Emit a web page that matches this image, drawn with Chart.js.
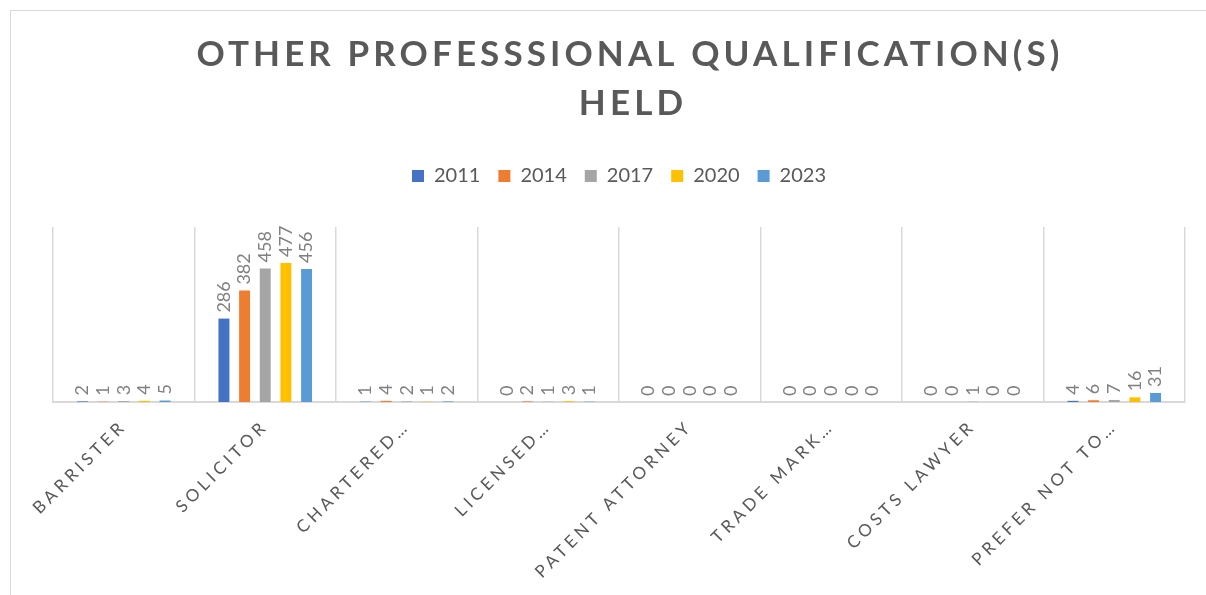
<!DOCTYPE html>
<html>
<head>
<meta charset="utf-8">
<title>Other professional qualification(s) held</title>
<script src="https://cdn.jsdelivr.net/npm/chart.js@4.4.0/dist/chart.umd.min.js"></script>
<style>
    html, body { margin: 0; padding: 0; background: #fff; }
    #wrap { width: 1206px; height: 595px; }
</style>
</head>
<body>
<div id="wrap"><canvas id="qualChart" width="1206" height="595"></canvas></div>
<script>
    // values
    const titleLines = ["OTHER PROFESSSIONAL QUALIFICATION(S)", "HELD"];
    const categories = ["BARRISTER", "SOLICITOR", "CHARTERED…", "LICENSED…", "PATENT ATTORNEY", "TRADE MARK…", "COSTS LAWYER", "PREFER NOT TO…"];
    const years = ["2011", "2014", "2017", "2020", "2023"];
    const values2011 = [2, 286, 1, 0, 0, 0, 0, 4];
    const values2014 = [1, 382, 4, 2, 0, 0, 0, 6];
    const values2017 = [3, 458, 2, 1, 0, 0, 1, 7];
    const values2020 = [4, 477, 1, 3, 0, 0, 0, 16];
    const values2023 = [5, 456, 2, 1, 0, 0, 0, 31];
    const seriesValues = [values2011, values2014, values2017, values2020, values2023];
    const seriesColors = ["#4472C4", "#ED7D31", "#A5A5A5", "#FFC000", "#5B9BD5"];

    const textGrey = "#595959";
    const labelGrey = "#808080";
    Chart.defaults.font.family = "Lato, 'Open Sans', sans-serif";
    Chart.defaults.color = textGrey;

    // frame, spaced title, spaced axis labels and rotated value labels
    const excelLook = {
        id: "excelLook",
        beforeDraw(chart) {
            const ctx = chart.ctx;
            ctx.save();
            ctx.fillStyle = "#fff";
            ctx.fillRect(0, 0, chart.width, chart.height);
            ctx.strokeStyle = "#d9d9d9";
            ctx.lineWidth = 1;
            ctx.strokeRect(10.5, 10.5, chart.width + 20, chart.height + 20);
            ctx.restore();
        },
        afterDatasetsDraw(chart) {
            // x tick labels (ticks.z = 1) are drawn after this hook
            chart.ctx.letterSpacing = "4px";
        },
        afterDraw(chart) {
            const ctx = chart.ctx;
            ctx.letterSpacing = "0px";

            ctx.save();
            ctx.fillStyle = labelGrey;
            ctx.font = "18px Lato, 'Open Sans', sans-serif";
            ctx.textAlign = "left";
            ctx.textBaseline = "middle";
            chart.data.datasets.forEach((ds, i) => {
                chart.getDatasetMeta(i).data.forEach((bar, j) => {
                    ctx.save();
                    ctx.translate(bar.x, bar.y - 6);
                    ctx.rotate(-Math.PI / 2);
                    ctx.fillText(String(ds.data[j]), 0, 0);
                    ctx.restore();
                });
            });
            ctx.restore();

            ctx.save();
            ctx.fillStyle = textGrey;
            ctx.font = "bold 35px Lato, 'Open Sans', sans-serif";
            ctx.letterSpacing = "4.1px";
            ctx.textAlign = "center";
            ctx.textBaseline = "middle";
            ctx.fillText(titleLines[0], 630, 55);
            ctx.fillText(titleLines[1], 633, 104);
            ctx.restore();
            ctx.letterSpacing = "0px";
        }
    };

    new Chart(document.getElementById("qualChart"), {
        type: "bar",
        data: {
            labels: categories,
            datasets: years.map((year, i) => ({
                label: year,
                data: seriesValues[i],
                backgroundColor: seriesColors[i],
                borderWidth: 0,
                categoryPercentage: 0.73,
                barPercentage: 0.53
            }))
        },
        options: {
            responsive: false,
            animation: false,
            layout: { padding: { top: 148, left: 53, right: 21, bottom: 0 } },
            plugins: {
                title: { display: false },
                tooltip: { enabled: false },
                legend: {
                    position: "top",
                    labels: {
                        boxWidth: 12,
                        boxHeight: 12,
                        padding: 18,
                        color: textGrey,
                        font: { size: 20 }
                    }
                }
            },
            scales: {
                x: {
                    grid: { color: "#d9d9d9", lineWidth: 1.5, drawTicks: false, offset: true },
                    border: { color: "#d9d9d9", width: 2 },
                    ticks: {
                        autoSkip: false,
                        maxRotation: 45,
                        minRotation: 45,
                        padding: 14,
                        z: 1,
                        color: textGrey,
                        font: { size: 17 }
                    },
                    afterFit(scale) { scale.height = 193; }
                },
                xTop: {
                    type: "category",
                    position: "top",
                    grid: { display: false },
                    border: { display: false },
                    ticks: { display: false },
                    afterFit(scale) { scale.height = 31; }
                },
                y: {
                    display: false,
                    min: 0,
                    max: 600
                }
            }
        },
        plugins: [excelLook]
    });
</script>
</body>
</html>
